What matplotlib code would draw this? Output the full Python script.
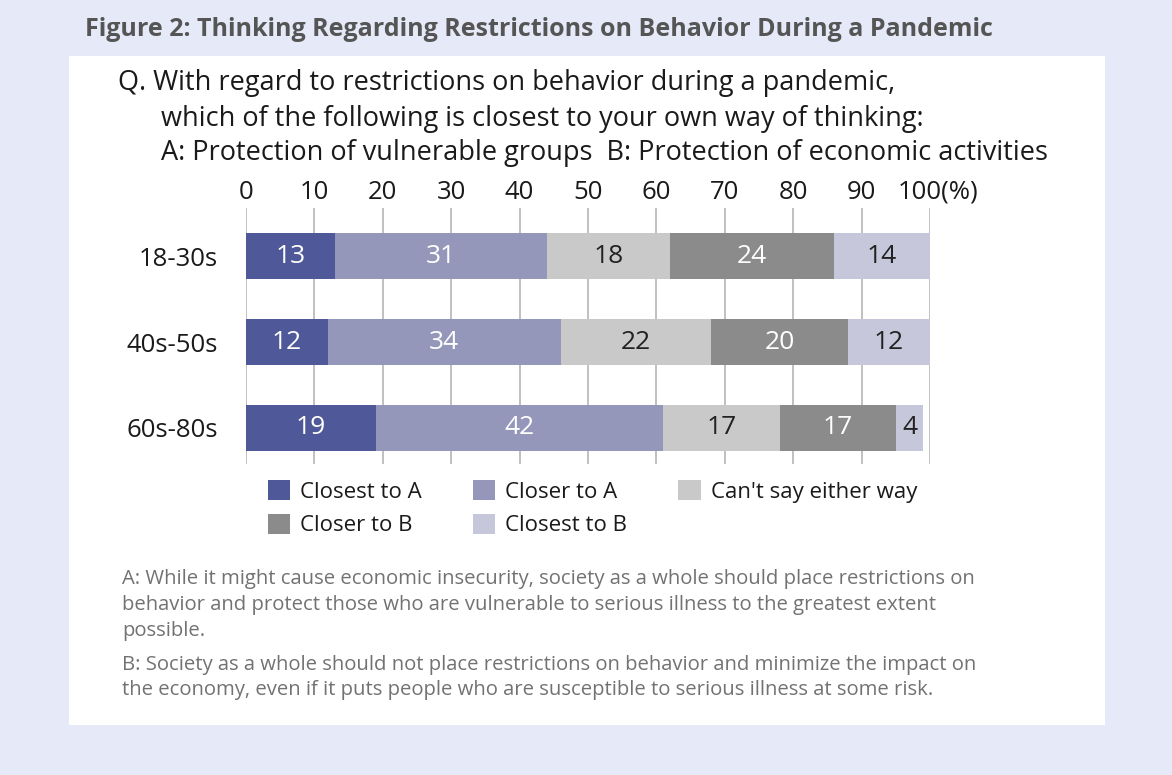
import numpy as np
import matplotlib.pyplot as plt
from matplotlib.patches import Rectangle

# data
groups = ['18-30s', '40s-50s', '60s-80s']
series_names = ['Closest to A', 'Closer to A', "Can't say either way",
                'Closer to B', 'Closest to B']
closest_a = [13, 12, 19]
closer_a = [31, 34, 42]
cant_say = [18, 22, 17]
closer_b = [24, 20, 17]
closest_b = [14, 12, 4]
x_ticks = [0, 10, 20, 30, 40, 50, 60, 70, 80, 90, 100]

colors = ['#4f5898', '#9497ba', '#c9c9c9', '#8b8b8b', '#c6c7da']
label_colors = ['white', 'white', '#222222', 'white', '#222222']

W, H = 1172, 775
plt.rcParams['font.family'] = ['Open Sans', 'DejaVu Sans']

fig = plt.figure(figsize=(W / 100, H / 100), dpi=100)
fig.patch.set_facecolor('#e6e9f8')


def fx(px):
    return px / W


def fy(py):
    return 1 - py / H


# white panel
fig.patches.append(Rectangle((fx(69), fy(725)), fx(1105) - fx(69), fy(56) - fy(725),
                             transform=fig.transFigure, facecolor='white',
                             edgecolor='none', zorder=-5))

fig.text(fx(85), fy(30), 'Figure 2: Thinking Regarding Restrictions on Behavior During a Pandemic',
         fontsize=18, fontweight='bold', color='#555555', va='center', ha='left')

q_lines = ['Q. With regard to restrictions on behavior during a pandemic,',
           'which of the following is closest to your own way of thinking:',
           'A: Protection of vulnerable groups  B: Protection of economic activities']
fig.text(fx(118), fy(83), q_lines[0], fontsize=19.5, color='#1a1a1a', va='center')
fig.text(fx(161), fy(119), q_lines[1], fontsize=19.5, color='#1a1a1a', va='center')
fig.text(fx(161), fy(153), q_lines[2], fontsize=19.5, color='#1a1a1a', va='center')

# bar axes
ax = fig.add_axes([fx(246), fy(464), fx(930) - fx(246), fy(208) - fy(464)])
ax.set_zorder(2)
ax.set_facecolor('none')
ax.set_xlim(0, 100)
ax.set_ylim(2.42, -0.56)

data = np.array([closest_a, closer_a, cant_say, closer_b, closest_b])
y = np.arange(len(groups))
left = np.zeros(len(groups))
for i, name in enumerate(series_names):
    vals = data[i]
    ax.barh(y, vals, left=left, height=0.53, color=colors[i], label=name, zorder=2)
    for j, v in enumerate(vals):
        ax.text(left[j] + v / 2, y[j], str(v), ha='center', va='center',
                fontsize=19, color=label_colors[i], zorder=3)
    left += vals

ax.set_xticks(x_ticks)
ax.set_xticklabels([str(t) for t in x_ticks[:-1]] + [''])
ax.xaxis.tick_top()
ax.tick_params(axis='x', length=0, pad=2.5, labelsize=18.5, labelcolor='#1a1a1a')
ax.annotate('100(%)', xy=(100, 1), xycoords=('data', 'axes fraction'),
            xytext=(-23.5, 2.5), textcoords='offset points', ha='left', va='bottom',
            fontsize=18.5, color='#1a1a1a')
ax.set_yticks(y)
ax.set_yticklabels(groups)
ax.tick_params(axis='y', length=0, pad=20, labelsize=18.5, labelcolor='#1a1a1a')
ax.grid(axis='x', color='#b5b5b5', linewidth=1.2, zorder=1)
ax.set_axisbelow(True)
for s in ax.spines.values():
    s.set_visible(False)

handles, labels = ax.get_legend_handles_labels()
order = [0, 3, 1, 4, 2]
fig.legend([handles[k] for k in order], [labels[k] for k in order],
           loc='upper left', bbox_to_anchor=(fx(248), fy(460)), ncol=3,
           frameon=False, fontsize=16, handlelength=1.0, handleheight=1.0,
           handletextpad=0.45, columnspacing=2.3, labelspacing=0.5,
           labelcolor='#1a1a1a')

notes = ['A: While it might cause economic insecurity, society as a whole should place restrictions on',
         'behavior and protect those who are vulnerable to serious illness to the greatest extent',
         'possible.',
         'B: Society as a whole should not place restrictions on behavior and minimize the impact on',
         'the economy, even if it puts people who are susceptible to serious illness at some risk.']
note_y = [579, 605, 631, 665, 690]
for line, yy in zip(notes, note_y):
    fig.text(fx(122), fy(yy), line, fontsize=14.6, color='#727272', va='center')

plt.savefig('out.png', dpi=100, facecolor=fig.get_facecolor())
